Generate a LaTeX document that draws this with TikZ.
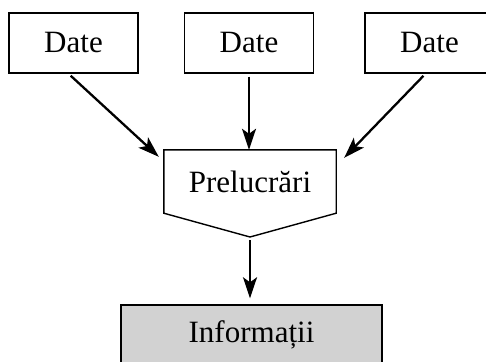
\documentclass[tikz,border=0pt]{standalone}
\usepackage{fontspec}
\setmainfont{Liberation Serif}
\usetikzlibrary{arrows.meta,positioning}

\begin{document}
\begin{tikzpicture}[
    x=1pt, y=-1pt,
    label/.style={font=\fontsize{31}{37}\selectfont},
    box/.style={rectangle, draw, line width=1.4pt, label, minimum width=129pt, minimum height=60pt},
    arrow/.style={-{Stealth[length=21pt, width=14pt, inset=5pt]}, line width=2.3pt}
]
    \clip (0,0) rectangle (486,361);

    % Data sources
    \node[box] (D1) at (73.5,43) {Date};
    \node[box] (D2) at (249,43) {Date};
    \node[box] (D3) at (429.5,43) {Date};

    % Processing
    \node[label, minimum width=172pt, minimum height=63pt, inner sep=0pt] (P) at (250,181.5) {Prelucrări};
    \coordinate (Ptip) at (250,237);
    \draw[line width=1.4pt] (P.north west) -- (P.north east) -- (P.south east)
        -- (Ptip) -- (P.south west) -- cycle;

    % Result
    \node[box, fill=gray!35, minimum width=261pt] (I) at (251.5,335) {Informații};

    % Arrows
    \draw[arrow, shorten <=3pt] ([xshift=-5pt]D1.south) -- ([shift={(-5,7)}]P.north west);
    \draw[arrow, shorten <=3pt] (D2.south) -- (D2.south |- P.north);
    \draw[arrow, shorten <=3pt] ([xshift=-4pt]D3.south) -- ([shift={(8,8)}]P.north east);
    \draw[arrow, shorten <=3pt, shorten >=6pt] (Ptip) -- (Ptip |- I.north);
\end{tikzpicture}
\end{document}
